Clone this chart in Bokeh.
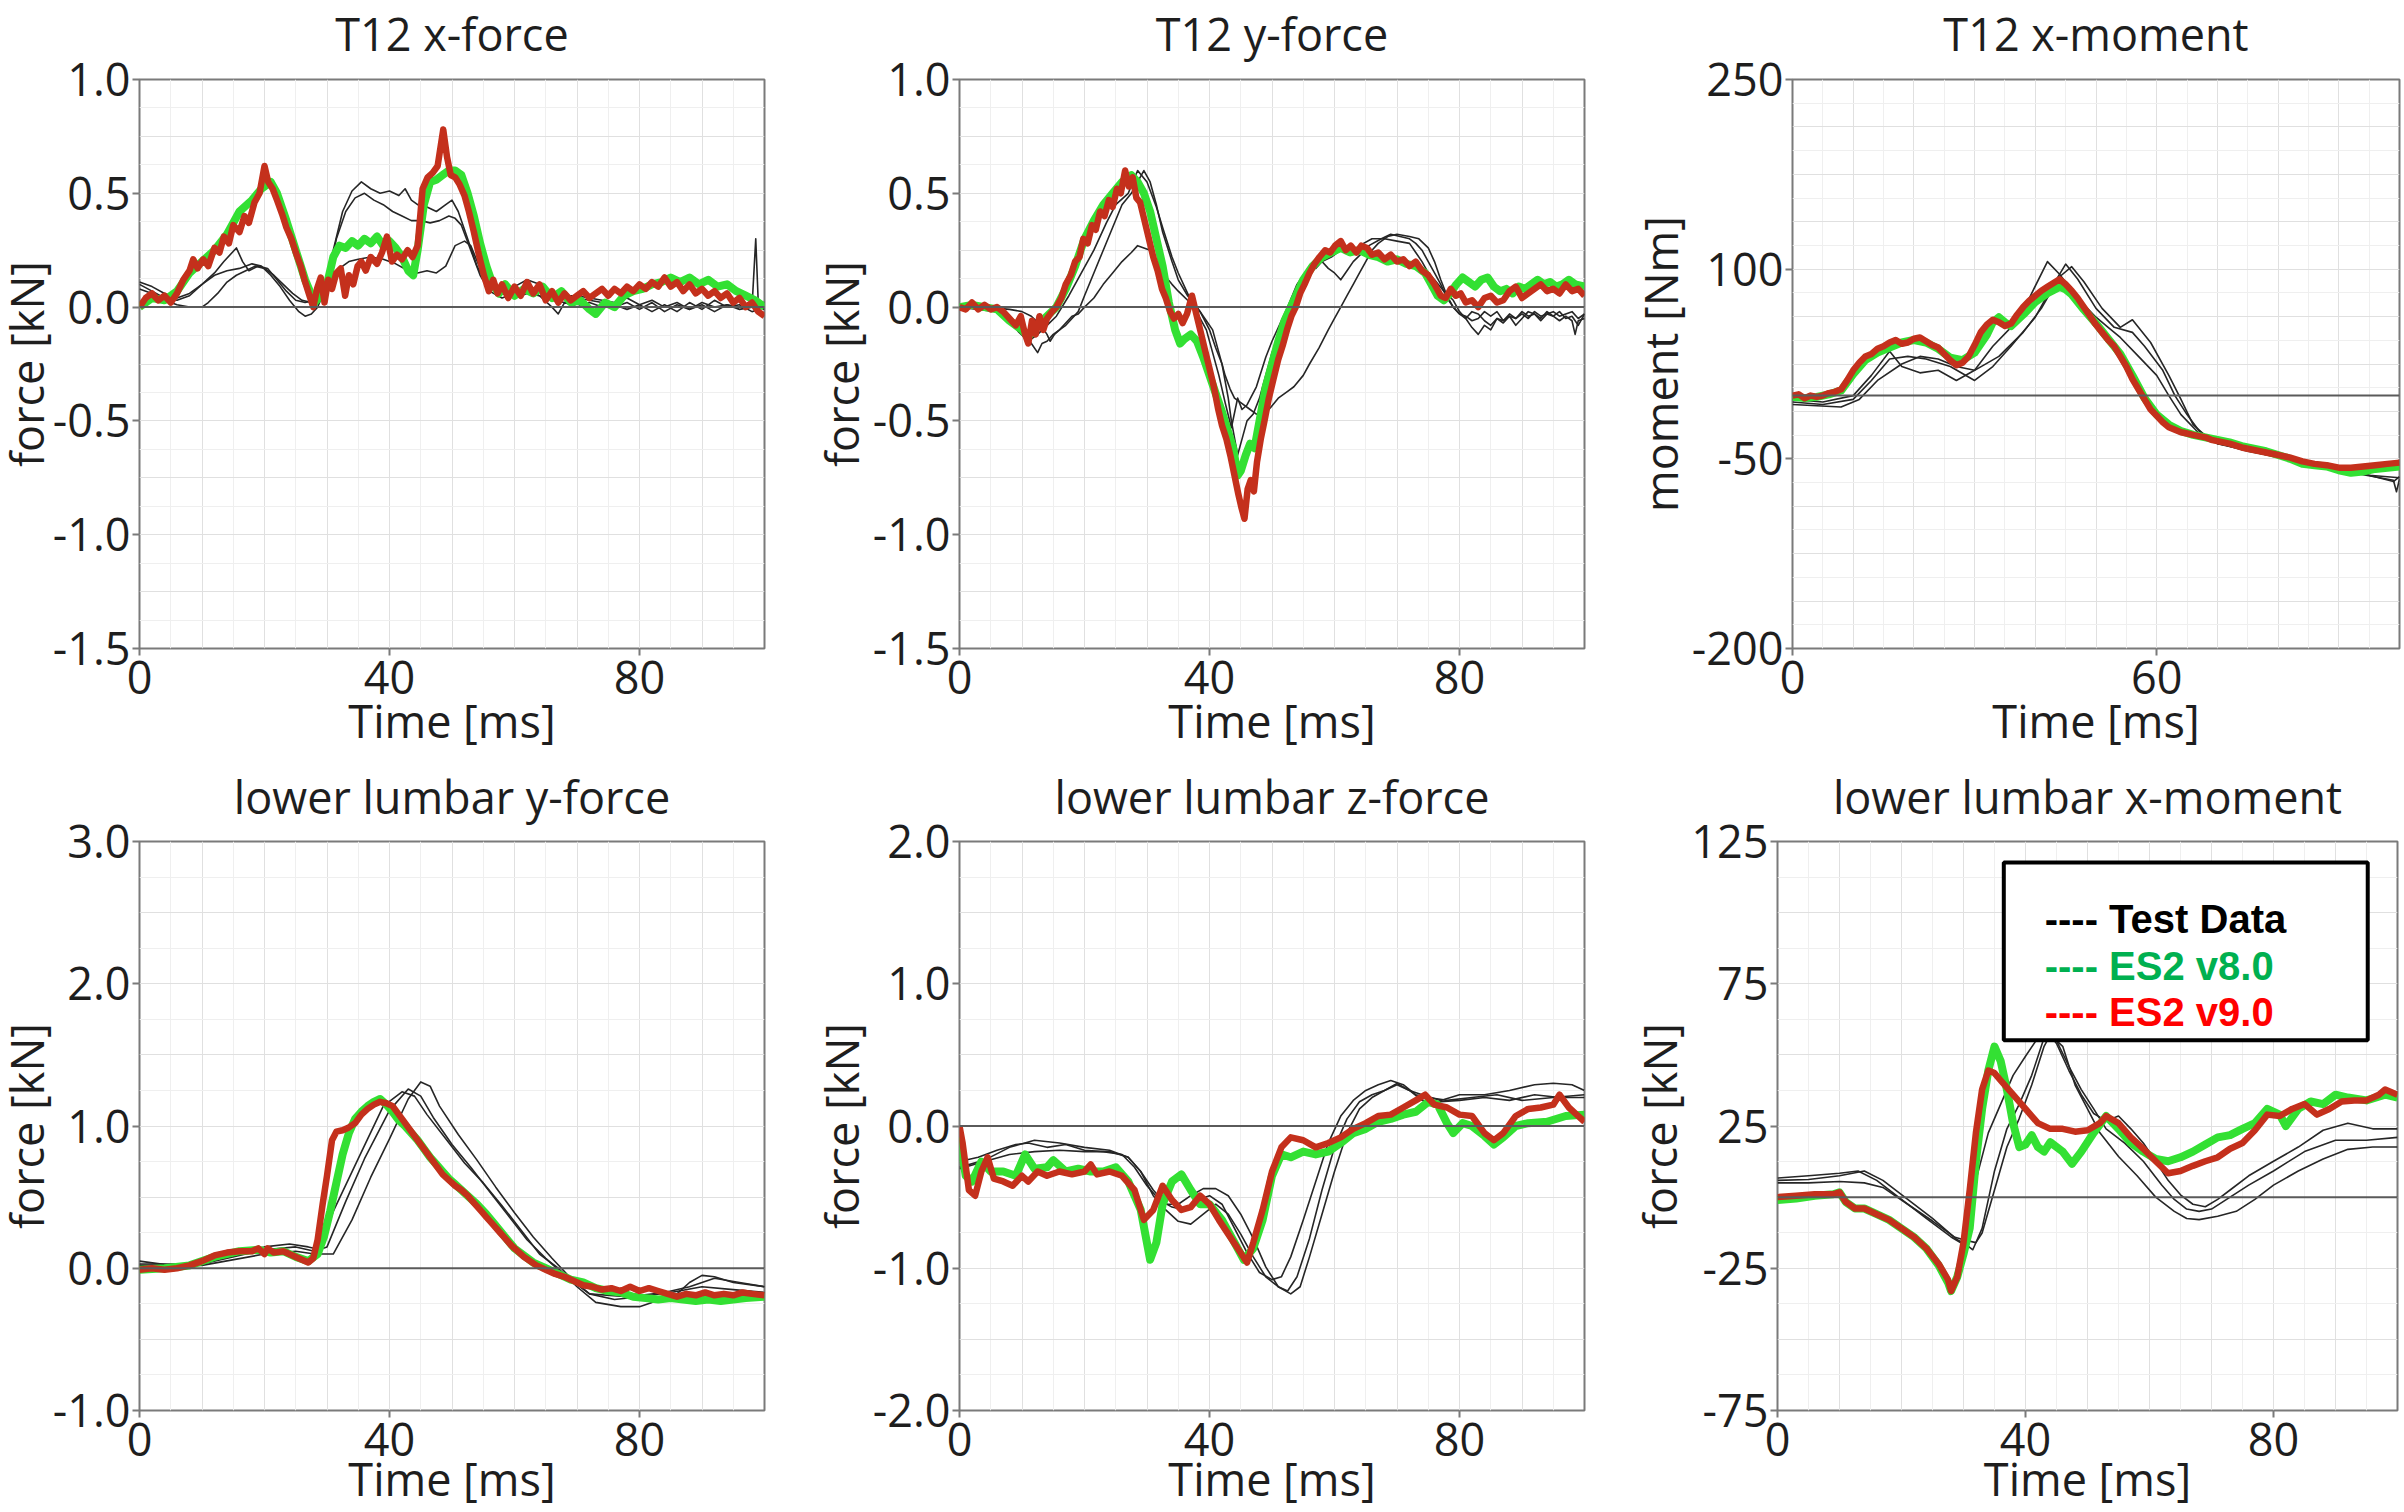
from bokeh.plotting import figure
from bokeh.layouts import column, row
from bokeh.models import FixedTicker, Span, BoxAnnotation, Label
from bokeh.embed import file_html
from bokeh.resources import INLINE

# ---------------- common axis data ----------------
TIME_TICKS = [0, 40, 80]
TIME_TICKS_MOMENT = [0, 60]

# ---------------- Panel 1: T12 x-force ----------------
T12X_YTICKS = [1.0, 0.5, 0.0, -0.5, -1.0, -1.5]
T12X_YLABELS = ["1.0", "0.5", "0.0", "-0.5", "-1.0", "-1.5"]
t12x_test1_t = [0, 2, 4, 6, 8, 10, 12, 13.5, 15.5, 16.5, 17.5, 19, 20.5, 22, 23.5, 25, 26.5, 28, 29.5, 31, 32.5, 34, 35.5, 37, 38.5, 40, 41.5, 42.5, 43.5, 44.5, 46, 47.5, 49, 50, 51, 52.5, 54, 56, 58, 60, 62, 64, 66, 68, 70, 72, 74, 76, 78, 80, 82, 84, 86, 88, 90, 92, 94, 96, 98, 98.6, 99, 100]
t12x_test1 = [0.11, 0.09, 0.06, 0.04, 0.06, 0.1, 0.15, 0.2, 0.26, 0.2, 0.16, 0.18, 0.17, 0.12, 0.07, 0.03, 0.02, 0.03, 0.08, 0.25, 0.42, 0.51, 0.55, 0.52, 0.5, 0.51, 0.49, 0.52, 0.47, 0.45, 0.44, 0.42, 0.45, 0.47, 0.42, 0.3, 0.18, 0.08, 0.06, 0.09, 0.12, 0.1, 0.07, 0.05, 0.05, 0.04, 0.03, 0.02, 0.04, 0.01, 0.03, 0.0, 0.02, -0.01, 0.02, 0.0, 0.01, -0.01, 0.0, 0.3, 0.02, 0.02]
t12x_test2_t = [0, 2, 4, 6, 8, 10, 12, 14, 16, 18, 19.5, 21, 22.5, 24, 25.5, 26.5, 27.5, 28.5, 30, 31.5, 33, 34.5, 36, 37.5, 39, 40.5, 42, 43.5, 45, 46.5, 48, 49.5, 50.5, 51.5, 53, 54.5, 56, 58, 60, 62, 64, 66, 67, 68, 70, 72, 74, 76, 78, 80, 82, 84, 86, 88, 90, 92, 94, 96, 98, 100]
t12x_test2 = [0.1, 0.07, 0.04, 0.03, 0.05, 0.1, 0.14, 0.16, 0.17, 0.19, 0.18, 0.14, 0.09, 0.03, -0.02, -0.04, -0.03, 0.0, 0.1, 0.3, 0.42, 0.48, 0.5, 0.47, 0.45, 0.42, 0.4, 0.38, 0.38, 0.37, 0.38, 0.4, 0.39, 0.36, 0.25, 0.14, 0.07, 0.04, 0.06, 0.08, 0.05, 0.0, -0.03, 0.02, 0.0, 0.02, 0.0, 0.01, -0.01, 0.01, -0.02, 0.01, -0.02, 0.02, -0.01, 0.03, 0.0, 0.01, -0.02, 0.0]
t12x_test3_t = [0, 2, 4, 6, 8, 10, 11, 12.5, 14, 15.5, 17, 18.5, 20, 21.5, 23, 24.5, 26, 27.5, 29, 30.5, 32, 33.5, 35, 37, 39, 41, 43, 44.5, 46, 47.5, 49, 50.5, 52, 53, 54.5, 56, 58, 60, 62, 64, 66, 68, 70, 72, 74, 76, 78, 80, 82, 84, 86, 88, 90, 92, 94, 96, 98, 100]
t12x_test3 = [0.08, 0.06, 0.03, 0.01, 0.0, 0.0, 0.02, 0.06, 0.11, 0.14, 0.16, 0.18, 0.17, 0.14, 0.1, 0.06, 0.03, 0.02, 0.03, 0.1, 0.17, 0.2, 0.21, 0.22, 0.21, 0.19, 0.16, 0.15, 0.16, 0.15, 0.18, 0.27, 0.29, 0.27, 0.17, 0.09, 0.06, 0.04, 0.06, 0.05, 0.03, 0.02, 0.04, 0.03, 0.02, 0.0, 0.02, -0.01, 0.02, -0.02, 0.01, -0.01, 0.01, -0.02, 0.01, 0.0, 0.01, -0.01]
t12x_v8_t = [0, 2, 4, 6, 8, 10, 12, 14, 16, 18, 19.5, 21, 22, 23.5, 25, 26.5, 28, 29, 30, 31, 32, 33, 34, 35, 36, 37, 38, 39, 40, 41, 42, 43, 43.8, 44.5, 45.5, 46.5, 47.5, 48.5, 49.5, 50.5, 51.5, 52.5, 53.5, 54.5, 55.5, 56.5, 57.5, 58.5, 60, 61.5, 63, 64.5, 66, 67.5, 69, 70.5, 72, 73, 74.5, 76, 77.5, 79, 80.5, 82, 83.5, 85, 86.5, 88, 89.5, 91, 92.5, 94, 95.5, 97, 98.5, 100]
t12x_v8 = [0.0, 0.04, 0.03, 0.07, 0.15, 0.2, 0.25, 0.32, 0.42, 0.47, 0.52, 0.55, 0.5, 0.38, 0.25, 0.12, 0.02, 0.05, 0.1, 0.22, 0.27, 0.26, 0.29, 0.27, 0.3, 0.28, 0.31, 0.27, 0.29, 0.26, 0.22, 0.16, 0.14, 0.25, 0.45, 0.55, 0.56, 0.58, 0.6, 0.6, 0.58, 0.5, 0.4, 0.28, 0.18, 0.1, 0.06, 0.1, 0.05, 0.08, 0.06, 0.09, 0.04, 0.07, 0.02, 0.03, -0.01, -0.03, 0.02, 0.0, 0.05, 0.07, 0.08, 0.1, 0.11, 0.13, 0.11, 0.13, 0.1, 0.12, 0.09, 0.1, 0.07, 0.05, 0.03, 0.0]
t12x_v9_t = [0, 1, 2, 3, 4, 5, 6, 7, 8, 8.6, 9.3, 10.2, 11, 12, 12.8, 13.5, 14.3, 15, 16, 16.8, 17.5, 18.4, 19.2, 20, 20.6, 21.3, 22, 22.8, 23.5, 24.3, 25, 25.8, 26.5, 27.2, 27.8, 28.4, 29, 29.6, 30.2, 30.8, 31.5, 32.2, 32.9, 33.5, 34.2, 34.9, 35.5, 36.2, 37, 38, 38.8, 39.6, 40.4, 41.2, 42, 42.9, 43.7, 44.5, 45.3, 46.1, 46.9, 47.7, 48.6, 49.2, 49.8, 50.5, 51.2, 52, 52.7, 53.5, 54.3, 55.1, 55.9, 56.6, 57.3, 58, 59, 60, 61, 62, 63, 64, 65, 66, 67, 68, 69, 70, 71, 72, 73, 74, 75, 76, 77, 78, 79, 80, 81, 82, 83, 84, 85, 86, 87, 88, 89, 90, 91, 92, 93, 94, 95, 96, 97, 98, 99, 100]
t12x_v9 = [0.0, 0.04, 0.06, 0.03, 0.05, 0.02, 0.06, 0.12, 0.16, 0.21, 0.17, 0.21, 0.18, 0.26, 0.24, 0.31, 0.28, 0.36, 0.33, 0.4, 0.37, 0.46, 0.5, 0.62, 0.55, 0.52, 0.47, 0.41, 0.35, 0.3, 0.24, 0.18, 0.11, 0.05, 0.0, 0.08, 0.13, 0.02, 0.12, 0.08, 0.15, 0.17, 0.05, 0.14, 0.1, 0.18, 0.2, 0.16, 0.22, 0.19, 0.24, 0.31, 0.2, 0.23, 0.21, 0.25, 0.22, 0.27, 0.52, 0.57, 0.59, 0.62, 0.78, 0.66, 0.58, 0.57, 0.54, 0.49, 0.42, 0.33, 0.23, 0.14, 0.07, 0.12, 0.06, 0.1, 0.04, 0.09, 0.05, 0.11, 0.06, 0.1, 0.03, 0.07, 0.02, 0.06, 0.03, 0.05, 0.07, 0.04, 0.06, 0.08, 0.05, 0.08, 0.06, 0.09, 0.07, 0.1, 0.08, 0.11, 0.09, 0.13, 0.09, 0.11, 0.07, 0.1, 0.06, 0.08, 0.05, 0.07, 0.04, 0.06, 0.02, 0.04, 0.0, 0.02, -0.02, -0.04]

# ---------------- Panel 2: T12 y-force ----------------
T12Y_YTICKS = [1.0, 0.5, 0.0, -0.5, -1.0, -1.5]
T12Y_YLABELS = ["1.0", "0.5", "0.0", "-0.5", "-1.0", "-1.5"]
t12y_test1_t = [0, 3, 6, 8, 9.5, 11, 12.5, 14, 15.5, 17.5, 19.5, 21.5, 23.5, 25, 27, 28.5, 30, 31.5, 32.5, 34, 35, 36.5, 37.5, 38.5, 39.5, 40.5, 41.5, 42.5, 43.5, 44.5, 45.2, 46, 47.5, 49, 50, 51.5, 52.5, 54, 56, 57, 58, 59.5, 61, 62.5, 64, 66, 68, 70, 72, 73, 74, 75, 76, 77.5, 79, 80, 81, 82, 83, 84, 85, 86, 87, 88, 89, 90, 91, 92, 93, 94, 95, 96, 97, 98, 99, 100]
t12y_test1 = [0.0, -0.01, -0.02, -0.06, -0.11, -0.15, -0.12, -0.08, -0.04, 0.05, 0.15, 0.25, 0.37, 0.45, 0.5, 0.6, 0.55, 0.44, 0.35, 0.22, 0.15, 0.06, 0.0, -0.05, -0.1, -0.2, -0.3, -0.42, -0.53, -0.4, -0.45, -0.43, -0.35, -0.22, -0.15, -0.06, 0.0, 0.1, 0.18, 0.17, 0.2, 0.22, 0.25, 0.24, 0.27, 0.3, 0.3, 0.29, 0.28, 0.24, 0.2, 0.15, 0.12, 0.07, 0.03, -0.02, -0.05, -0.09, -0.12, -0.08, -0.1, -0.05, -0.07, -0.04, -0.08, -0.05, -0.02, -0.03, -0.06, -0.03, -0.04, -0.02, -0.05, -0.04, -0.08, -0.03]
t12y_test2_t = [0, 3, 6, 8, 10, 11.5, 12.5, 13.2, 14, 15, 16, 17, 18, 19, 20, 21.5, 23, 24.5, 26, 27.5, 28.5, 29.5, 30.5, 31.5, 32.5, 34, 35, 36.5, 38.5, 40, 41, 42, 43, 43.5, 44.5, 45.2, 46, 47, 48, 49, 50, 51.5, 52.5, 54, 55.5, 57, 58, 59, 60, 61, 62, 63, 64.5, 65.5, 67.5, 69, 70.5, 72, 73, 74, 75, 76, 77, 78, 79, 80, 81, 82, 83, 84, 85, 86, 87, 88, 89, 90, 91, 92, 93, 94, 95, 96, 97, 98, 98.5, 99, 100]
t12y_test2 = [0.0, 0.0, -0.01, -0.05, -0.1, -0.16, -0.2, -0.16, -0.15, -0.12, -0.1, -0.08, -0.05, -0.02, 0.05, 0.15, 0.25, 0.35, 0.45, 0.5, 0.55, 0.6, 0.55, 0.45, 0.33, 0.2, 0.12, 0.05, -0.02, -0.1, -0.18, -0.25, -0.4, -0.5, -0.65, -0.58, -0.5, -0.47, -0.4, -0.3, -0.2, -0.1, 0.0, 0.08, 0.15, 0.19, 0.2, 0.17, 0.15, 0.12, 0.16, 0.2, 0.24, 0.27, 0.3, 0.32, 0.31, 0.3, 0.28, 0.25, 0.2, 0.15, 0.1, 0.04, 0.0, -0.03, -0.05, -0.02, -0.03, -0.06, -0.08, -0.05, -0.06, -0.03, -0.05, -0.02, -0.04, -0.03, -0.05, -0.02, -0.04, -0.06, -0.04, -0.06, -0.12, -0.06, -0.05]
t12y_test3_t = [0, 4, 8, 10, 11.5, 13, 14, 14.5, 15.2, 16, 17, 18, 19, 20, 21.5, 23, 24.5, 26, 27.5, 28.5, 29.5, 30.5, 31.5, 32.5, 34, 35, 36.5, 38, 39.5, 40.5, 41.5, 42.5, 43.3, 44, 45, 46.5, 47.5, 48.5, 49.5, 51, 52.5, 53.5, 55, 56, 57.5, 59, 60, 61, 62, 63, 64, 65, 66, 67, 68.5, 70, 72, 73.5, 75, 76, 77, 78, 79, 80, 81, 82, 83, 84, 85, 86, 87, 88, 89, 90, 91, 92, 93, 94, 95, 96, 97, 98, 99, 100]
t12y_test3 = [0.0, 0.0, -0.01, -0.02, -0.04, -0.08, -0.12, -0.15, -0.12, -0.1, -0.07, -0.04, -0.03, 0.0, 0.04, 0.1, 0.15, 0.2, 0.24, 0.27, 0.26, 0.25, 0.2, 0.15, 0.1, 0.07, 0.03, 0.0, -0.06, -0.1, -0.2, -0.3, -0.36, -0.4, -0.42, -0.45, -0.47, -0.48, -0.45, -0.4, -0.37, -0.35, -0.3, -0.25, -0.18, -0.1, -0.05, 0.0, 0.05, 0.1, 0.15, 0.2, 0.25, 0.28, 0.31, 0.32, 0.31, 0.3, 0.26, 0.2, 0.12, 0.05, 0.0, -0.03, -0.04, -0.06, -0.05, -0.02, -0.04, -0.02, -0.06, -0.04, -0.05, -0.03, -0.05, -0.02, -0.04, -0.03, -0.02, -0.04, -0.03, -0.02, -0.05, -0.03]
t12y_v8_t = [0, 2, 4, 6, 8, 10, 11, 12.5, 14, 15.5, 17, 18.5, 20, 21.5, 23, 24.5, 26, 27.5, 28.5, 29.5, 30.5, 31.5, 32.5, 33.5, 34.5, 35.3, 36, 37, 38, 39, 40, 41, 42, 43, 43.8, 44.5, 45, 45.8, 46.5, 47.2, 48, 49, 50, 51, 52, 53, 54, 55, 56.5, 58, 59.5, 61, 62.5, 64, 65.5, 67, 68.5, 70, 71.5, 73, 74.5, 75.5, 76.5, 77.5, 78.5, 79.5, 80.5, 81.5, 82.5, 83.5, 84.5, 85.5, 86.5, 87.5, 88.5, 89.5, 90.5, 91.5, 92.5, 93.5, 94.5, 95.5, 96.5, 97.5, 98.5, 100]
t12y_v8 = [0.0, 0.01, 0.0, -0.01, -0.06, -0.1, -0.13, -0.08, -0.04, 0.0, 0.08, 0.18, 0.3, 0.38, 0.45, 0.5, 0.55, 0.58, 0.55, 0.5, 0.42, 0.3, 0.18, 0.02, -0.1, -0.16, -0.14, -0.12, -0.15, -0.22, -0.3, -0.38, -0.46, -0.55, -0.62, -0.74, -0.72, -0.65, -0.6, -0.62, -0.5, -0.35, -0.25, -0.15, -0.06, 0.0, 0.06, 0.12, 0.18, 0.22, 0.24, 0.26, 0.24, 0.25, 0.23, 0.22, 0.2, 0.21, 0.19, 0.18, 0.15, 0.1, 0.05, 0.03, 0.06, 0.1, 0.13, 0.11, 0.09, 0.12, 0.13, 0.09, 0.07, 0.08, 0.06, 0.09, 0.08, 0.1, 0.12, 0.1, 0.11, 0.09, 0.1, 0.12, 0.1, 0.09]
t12y_v9_t = [0, 1, 2, 3, 4, 5, 6, 7, 8, 9, 9.8, 10.5, 11, 11.6, 12.2, 12.8, 13.4, 14, 14.8, 15.5, 16.3, 17, 17.8, 18.5, 19.2, 19.8, 20.5, 21.2, 21.8, 22.5, 23.2, 23.9, 24.5, 25.2, 25.8, 26.5, 27.1, 27.7, 28.3, 28.9, 29.6, 30.3, 31, 31.7, 32.4, 33, 33.7, 34.3, 35, 35.7, 36.4, 37.2, 37.8, 38.5, 39.2, 40, 40.7, 41.4, 42, 42.7, 43.4, 44, 44.6, 45.1, 45.6, 46.1, 46.6, 47.1, 47.6, 48.2, 48.8, 49.5, 50.2, 51, 51.7, 52.4, 53.1, 53.8, 54.5, 55.2, 56, 56.8, 57.6, 58.5, 59.3, 60.1, 61, 61.8, 62.6, 63.5, 64.3, 65.2, 66, 67, 68, 69, 70, 71, 72, 73, 74, 75, 76, 77, 77.8, 78.6, 79.4, 80.2, 81, 82, 83, 84, 85, 86, 87, 88, 89, 90, 91, 92, 93, 94, 95, 96, 97, 98, 99, 100]
t12y_v9 = [0.0, -0.01, 0.02, -0.01, 0.01, -0.01, 0.0, -0.02, -0.05, -0.08, -0.04, -0.12, -0.16, -0.06, -0.12, -0.04, -0.1, -0.05, -0.02, 0.0, 0.04, 0.1, 0.14, 0.2, 0.22, 0.3, 0.28, 0.36, 0.34, 0.42, 0.4, 0.47, 0.44, 0.52, 0.5, 0.6, 0.53, 0.57, 0.48, 0.46, 0.38, 0.3, 0.22, 0.16, 0.08, 0.04, -0.02, -0.05, -0.03, -0.07, -0.03, 0.05, -0.02, -0.1, -0.18, -0.27, -0.35, -0.45, -0.52, -0.58, -0.66, -0.74, -0.82, -0.88, -0.93, -0.8, -0.76, -0.81, -0.68, -0.58, -0.5, -0.4, -0.32, -0.23, -0.17, -0.1, -0.04, 0.0, 0.06, 0.1, 0.15, 0.19, 0.22, 0.25, 0.24, 0.27, 0.29, 0.25, 0.27, 0.24, 0.27, 0.26, 0.23, 0.24, 0.21, 0.23, 0.2, 0.21, 0.18, 0.2, 0.16, 0.14, 0.1, 0.05, 0.04, 0.08, 0.05, 0.06, 0.02, 0.03, 0.0, 0.04, 0.05, 0.02, 0.03, 0.07, 0.09, 0.04, 0.06, 0.08, 0.1, 0.07, 0.08, 0.06, 0.1, 0.07, 0.08, 0.05]

# ---------------- Panel 3: T12 x-moment ----------------
T12M_YTICKS = [250, 100, -50, -200]
T12M_YLABELS = ["250", "100", "-50", "-200"]
t12m_test1_t = [0, 5, 10, 13, 16, 18, 21, 24, 27, 30, 33, 36, 39, 42, 44, 47, 50, 52, 54, 57, 60, 62, 64, 67, 70, 75, 80, 85, 90, 95, 99, 100]
t12m_test1 = [-3, -5, 0, 16, 35, 23, 18, 20, 12, 20, 39, 54, 77, 106, 96, 77, 62, 54, 46, 31, 16, 0, -15, -30, -38, -42, -47, -55, -59, -63, -68, -64]
t12m_test2_t = [0, 5, 10, 13, 16, 19, 22, 26, 30, 33, 36, 40, 43, 45, 47, 50, 53, 56, 58, 61, 63, 65, 67, 70, 80, 90, 99, 99.5, 100]
t12m_test2 = [-5, -7, -3, 12, 29, 31, 29, 23, 12, 23, 39, 62, 88, 104, 92, 69, 54, 50, 39, 20, 0, -15, -28, -38, -49, -59, -67, -76, -66]
t12m_test3_t = [0, 8, 11, 14, 18, 21, 24, 27, 30, 34, 38, 41, 44, 46, 48, 51, 54, 56, 59, 62, 64, 66, 69, 75, 85, 95, 100]
t12m_test3 = [-7, -9, -3, 12, 25, 31, 29, 23, 20, 31, 50, 69, 94, 102, 90, 69, 54, 60, 42, 16, -3, -23, -36, -44, -53, -63, -65]
t12m_v8_t = [0, 2, 4, 6, 8, 10, 12, 14, 16, 18, 20, 22, 24, 26, 28, 30, 32, 33, 34, 35, 36, 38, 40, 42, 44, 45, 46, 48, 50, 52, 54, 56, 58, 60, 62, 64, 66, 68, 70, 72, 74, 76, 78, 80, 82, 84, 86, 88, 90, 92, 94, 96, 98, 100]
t12m_v8 = [-1, -2, -1, 1, 4, 17, 28, 34, 38, 42, 44, 42, 37, 30, 28, 34, 48, 58, 62, 58, 55, 64, 74, 81, 86, 84, 80, 68, 57, 45, 33, 16, -2, -15, -23, -28, -31, -33, -35, -37, -40, -42, -44, -47, -50, -54, -55, -56, -59, -61, -60, -58, -57, -56]
t12m_v9_t = [0, 1, 2, 3, 4, 5, 6, 7, 8, 9, 10, 11, 12, 13, 14, 15, 16, 17, 18, 19, 20, 21, 22, 23, 24, 25, 26, 27, 28, 29, 30, 31, 32, 33, 34, 35, 36, 37, 38, 39, 40, 41, 42, 43, 44, 45, 46, 47, 48, 49, 50, 51, 52, 53, 54, 55, 56, 57, 58, 59, 60, 61, 62, 63, 64, 65, 66, 67, 68, 69, 70, 72, 74, 76, 78, 80, 82, 84, 86, 88, 90, 92, 94, 96, 98, 100]
t12m_v9 = [0, 1, -2, 0, -1, 0, 2, 3, 5, 12, 20, 26, 31, 33, 37, 39, 42, 44, 41, 42, 45, 46, 43, 40, 38, 33, 28, 24, 26, 31, 40, 50, 56, 60, 58, 55, 57, 64, 70, 75, 79, 83, 86, 89, 92, 88, 83, 77, 70, 63, 56, 50, 44, 39, 31, 23, 13, 5, -3, -11, -16, -21, -25, -27, -29, -30, -31, -32, -33, -35, -36, -38, -41, -43, -45, -47, -49, -52, -54, -55, -57, -57, -56, -55, -54, -53]

# ---------------- Panel 4: lower lumbar y-force ----------------
LLY_YTICKS = [3.0, 2.0, 1.0, 0.0, -1.0]
LLY_YLABELS = ["3.0", "2.0", "1.0", "0.0", "-1.0"]
lly_test1_t = [0, 5, 10, 15, 20, 24, 27, 29, 31, 35, 39, 42, 44, 46, 49, 52, 55, 58, 61, 64, 67, 70, 73, 77, 80, 82, 84, 86, 88, 90, 92, 95, 100]
lly_test1 = [0.05, 0.02, 0.03, 0.1, 0.15, 0.17, 0.15, 0.13, 0.4, 0.77, 1.14, 1.24, 1.21, 1.08, 0.91, 0.74, 0.6, 0.44, 0.27, 0.1, 0.0, -0.13, -0.24, -0.27, -0.27, -0.24, -0.2, -0.18, -0.1, -0.05, -0.06, -0.1, -0.13]
lly_test2_t = [0, 10, 20, 25, 28, 30, 33, 36, 40, 43, 45, 47, 50, 53, 56, 59, 62, 65, 68, 72, 76, 80, 85, 90, 95, 100]
lly_test2 = [0.03, 0.03, 0.13, 0.15, 0.12, 0.15, 0.47, 0.77, 1.11, 1.26, 1.21, 1.06, 0.87, 0.71, 0.54, 0.37, 0.2, 0.07, -0.05, -0.18, -0.22, -0.2, -0.17, -0.13, -0.15, -0.17]
lly_test3_t = [0, 10, 20, 25, 28, 31, 34, 37, 40, 43, 45, 46.5, 48, 51, 54, 57, 60, 63, 66, 69, 72, 78, 84, 88, 92, 96, 100]
lly_test3 = [0.02, 0.02, 0.1, 0.12, 0.1, 0.1, 0.34, 0.64, 0.91, 1.19, 1.31, 1.28, 1.14, 0.94, 0.76, 0.57, 0.39, 0.22, 0.07, -0.07, -0.18, -0.2, -0.17, -0.13, -0.07, -0.1, -0.13]
lly_v8_t = [0, 4, 8, 12, 16, 19, 21, 23, 25, 27, 28.5, 29.5, 30.5, 31.5, 32.5, 33.5, 34.5, 35.5, 36.5, 37.5, 38.5, 39.5, 40.5, 41.5, 42.5, 43.5, 44.5, 45.5, 46.5, 47.5, 48.5, 49.5, 50.5, 51.5, 52.5, 54, 55.5, 57, 58.5, 60, 61.5, 63, 65, 67, 69, 71, 73, 75, 77, 79, 81, 83, 85, 87, 89, 91, 93, 95, 97, 100]
lly_v8 = [-0.01, 0.0, 0.02, 0.08, 0.12, 0.13, 0.11, 0.12, 0.08, 0.05, 0.1, 0.22, 0.4, 0.6, 0.8, 0.95, 1.05, 1.1, 1.14, 1.17, 1.19, 1.15, 1.1, 1.04, 1.0, 0.95, 0.9, 0.84, 0.78, 0.73, 0.68, 0.63, 0.59, 0.55, 0.51, 0.45, 0.38, 0.3, 0.22, 0.14, 0.09, 0.04, 0.0, -0.04, -0.08, -0.1, -0.14, -0.16, -0.17, -0.2, -0.21, -0.22, -0.21, -0.22, -0.23, -0.22, -0.23, -0.22, -0.21, -0.2]
lly_v9_t = [0, 2, 4, 6, 8, 10, 12, 14, 16, 18, 19, 20, 20.5, 21.5, 23, 24.5, 26, 27, 27.8, 28.5, 29.3, 30, 30.8, 31.5, 32.5, 33.5, 34.5, 35.5, 36.5, 37.5, 38.5, 39.5, 40.5, 41.5, 42.5, 43.5, 44.5, 45.5, 46.5, 47.5, 48.5, 49.5, 50.5, 51.5, 52.5, 53.5, 54.5, 55.5, 56.5, 57.5, 58.5, 59.5, 60.5, 61.5, 62.5, 63.5, 65, 66.5, 68, 69.5, 71, 72.5, 74, 75.5, 77, 78.5, 80, 81.5, 83, 84.5, 86, 87.5, 89, 90.5, 92, 93.5, 95, 96.5, 98, 100]
lly_v9 = [-0.01, 0.0, -0.01, 0.0, 0.02, 0.05, 0.09, 0.11, 0.12, 0.12, 0.14, 0.1, 0.14, 0.11, 0.12, 0.09, 0.06, 0.04, 0.07, 0.2, 0.45, 0.65, 0.9, 0.96, 0.97, 0.99, 1.02, 1.08, 1.12, 1.15, 1.17, 1.16, 1.14, 1.08, 1.02, 0.96, 0.9, 0.84, 0.78, 0.72, 0.66, 0.62, 0.58, 0.55, 0.51, 0.46, 0.41, 0.36, 0.31, 0.26, 0.21, 0.16, 0.12, 0.08, 0.05, 0.02, -0.01, -0.04, -0.06, -0.09, -0.12, -0.13, -0.15, -0.14, -0.16, -0.13, -0.16, -0.14, -0.16, -0.18, -0.2, -0.18, -0.19, -0.17, -0.19, -0.18, -0.19, -0.17, -0.18, -0.19]

# ---------------- Panel 5: lower lumbar z-force ----------------
LLZ_YTICKS = [2.0, 1.0, 0.0, -1.0, -2.0]
LLZ_YLABELS = ["2.0", "1.0", "0.0", "-1.0", "-2.0"]
llz_test1_t = [0, 3, 6, 9, 11, 14, 17, 20, 23, 26, 28, 30, 32, 34, 36, 38, 40, 42, 44, 46, 48, 50, 51.5, 53, 55, 57, 59, 61, 63, 65, 67, 69, 71, 73, 75, 78, 82, 86, 90, 95, 100]
llz_test1 = [-0.25, -0.22, -0.17, -0.13, -0.12, -0.15, -0.13, -0.17, -0.18, -0.2, -0.29, -0.42, -0.52, -0.57, -0.59, -0.52, -0.49, -0.55, -0.72, -0.89, -1.03, -1.08, -1.06, -0.92, -0.66, -0.39, -0.12, 0.07, 0.18, 0.25, 0.29, 0.32, 0.29, 0.22, 0.2, 0.18, 0.2, 0.22, 0.18, 0.2, 0.22]
llz_test2_t = [0, 4, 8, 12, 16, 20, 24, 27, 29, 31, 33, 35, 37, 39, 41, 43, 45, 47, 49, 51, 52.5, 54, 56, 58, 60, 62, 64, 66, 68, 70, 72, 74, 77, 80, 84, 88, 92, 95, 98, 100]
llz_test2 = [-0.29, -0.24, -0.15, -0.1, -0.12, -0.15, -0.17, -0.22, -0.32, -0.45, -0.55, -0.55, -0.49, -0.44, -0.44, -0.49, -0.62, -0.79, -0.99, -1.13, -1.16, -1.06, -0.79, -0.45, -0.15, 0.05, 0.17, 0.22, 0.25, 0.3, 0.25, 0.22, 0.18, 0.22, 0.22, 0.25, 0.29, 0.3, 0.29, 0.25]
llz_test3_t = [0, 4, 8, 12, 16, 20, 24, 27, 29, 31, 33, 35, 37, 39, 41, 43, 45, 47, 49, 51, 53, 54.5, 56, 58, 60, 62, 64, 66, 68, 70, 72, 74, 77, 80, 84, 88, 92, 96, 100]
llz_test3 = [-0.3, -0.25, -0.2, -0.18, -0.17, -0.18, -0.18, -0.22, -0.32, -0.49, -0.59, -0.67, -0.69, -0.62, -0.55, -0.62, -0.76, -0.92, -1.06, -1.13, -1.18, -1.13, -0.92, -0.62, -0.32, -0.05, 0.12, 0.2, 0.25, 0.29, 0.25, 0.18, 0.17, 0.18, 0.2, 0.18, 0.22, 0.2, 0.2]
llz_v8_t = [0, 1, 2, 3.5, 5, 7, 9, 10.5, 12, 14, 15, 17, 19, 21, 23, 25, 27, 29, 30.5, 31.5, 32.5, 34, 35.5, 37, 38.5, 40, 42, 44, 45.5, 47, 48.5, 50, 51.5, 53, 55, 57, 59, 61, 63, 65, 67, 69, 71, 73, 75, 76.5, 78, 79, 80.5, 82, 84, 85.5, 87, 89, 91, 94, 97, 100]
llz_v8 = [-0.08, -0.35, -0.39, -0.25, -0.32, -0.32, -0.35, -0.2, -0.3, -0.29, -0.24, -0.32, -0.3, -0.32, -0.32, -0.29, -0.39, -0.59, -0.94, -0.82, -0.55, -0.39, -0.34, -0.45, -0.55, -0.55, -0.66, -0.82, -0.94, -0.86, -0.66, -0.35, -0.2, -0.22, -0.18, -0.2, -0.18, -0.12, -0.05, -0.02, 0.03, 0.05, 0.08, 0.1, 0.17, 0.15, 0.02, -0.05, 0.02, 0.0, -0.07, -0.13, -0.08, 0.0, 0.02, 0.03, 0.07, 0.08]
llz_v9_t = [0, 0.5, 1.5, 2.5, 3.5, 4.5, 5.5, 7, 8.5, 10, 11, 12.5, 14, 16, 18, 20, 21, 22, 24, 26, 28, 29.5, 31, 32.5, 34, 35.5, 37, 38.5, 40, 41.5, 43, 44.5, 46, 47, 48.5, 50, 51.5, 53, 55, 57, 59, 61, 63, 65, 67, 69, 71, 73, 74.5, 76, 78, 80, 82, 84, 85.5, 87, 89, 91, 93, 95, 96, 97.5, 99, 100]
llz_v9 = [0.0, -0.12, -0.45, -0.49, -0.32, -0.22, -0.37, -0.39, -0.42, -0.35, -0.39, -0.32, -0.35, -0.32, -0.34, -0.32, -0.27, -0.34, -0.32, -0.35, -0.45, -0.66, -0.59, -0.42, -0.52, -0.59, -0.57, -0.49, -0.55, -0.66, -0.76, -0.86, -0.96, -0.82, -0.59, -0.32, -0.15, -0.08, -0.1, -0.15, -0.12, -0.08, -0.02, 0.02, 0.07, 0.08, 0.13, 0.18, 0.22, 0.15, 0.13, 0.08, 0.07, -0.05, -0.1, -0.05, 0.07, 0.12, 0.13, 0.15, 0.22, 0.13, 0.07, 0.03]

# ---------------- Panel 6: lower lumbar x-moment ----------------
LLM_YTICKS = [125, 75, 25, -25, -75]
LLM_YLABELS = ["125", "75", "25", "-25", "-75"]
llm_test1_t = [0, 5, 10, 13, 16, 20, 24, 28, 29.5, 30.5, 32, 34, 36, 38, 40, 42, 43.5, 45, 47, 49, 51, 53, 55, 57, 59, 61, 63, 65, 67, 69, 71, 73, 76, 80, 84, 88, 92, 96, 100]
llm_test1 = [6.7, 7.5, 8.4, 9.2, 5.9, -0.8, -7.5, -14, -16, -12.6, 5.9, 22.6, 32.7, 42.8, 49.5, 56, 58, 54, 44.5, 36, 29.4, 26.8, 28.5, 24, 19, 12.6, 5.9, 0.8, -2.5, -3.4, -0.8, 2.5, 7.5, 12.6, 17.6, 23.5, 26, 24, 24]
llm_test2_t = [0, 5, 10, 14, 17, 21, 25, 29, 30.5, 31.5, 33, 35, 37, 39, 41, 43, 45, 47, 49, 51, 53, 56, 59, 62, 64, 66, 68, 70, 73, 76, 80, 85, 90, 95, 100]
llm_test2 = [5.9, 6.2, 7.5, 9.2, 5.9, -0.8, -7.5, -15, -16.8, -18.5, -11, 9.2, 24, 32.7, 42.8, 56, 55, 46, 37.8, 31, 24, 19, 12.6, 4.2, -0.8, -4.2, -5, -4.2, 0, 4.2, 9.2, 16, 20, 20, 21]
llm_test3_t = [0, 5, 10, 14, 17, 21, 25, 28.5, 30, 32, 33, 35, 37, 39, 41, 43, 44, 46, 48, 50, 52, 55, 58, 61, 64, 66, 68, 71, 74, 77, 80, 84, 88, 92, 96, 100]
llm_test3 = [5, 5, 5.5, 5, 3.4, -2.5, -8.4, -14, -15, -16, -12.6, 2.5, 17.6, 27.7, 39.4, 53, 57, 53, 39.4, 31, 22.6, 14.3, 7.5, 0, -5, -7.5, -7.9, -6.7, -5, -0.8, 4.2, 9.2, 13.4, 16.8, 17.6, 17.6]
llm_v8_t = [0, 3, 6, 9, 10, 11, 12.5, 14, 16, 18, 20, 22, 24, 26, 27.5, 28, 29, 30, 31, 32, 33, 34, 35, 36, 37, 38, 39, 40, 41, 42, 43, 44, 46, 47.5, 49, 51, 53, 55, 57, 59, 61, 63, 65, 67, 69, 71, 73, 75, 77, 79, 81, 82, 84, 86, 88, 90, 92, 95, 98, 100]
llm_v8 = [-1, -0.5, 0.5, 1, 1.7, -1.7, -4, -4, -6, -8, -11, -14, -18, -24, -30, -33, -28, -20, -11, 12.6, 31, 44.5, 52.9, 47.8, 37.8, 26, 17.6, 18.5, 21.8, 17.6, 16, 19.3, 16, 11.7, 16, 22.6, 28.5, 24, 19, 16, 13.4, 12.6, 14, 16, 18.5, 21, 21.8, 24, 26, 31, 29, 25, 31, 33.6, 32.7, 36, 35, 34, 36, 35]
llm_v9_t = [0, 3, 6, 9, 10, 11, 12.5, 14, 16, 18, 20, 22, 24, 26, 27.5, 28, 29, 30, 31, 32, 33, 34, 35, 36, 38, 40, 42, 44, 46, 48, 50, 52, 53, 55, 57, 59, 61, 63, 65, 67, 69, 71, 73, 75, 77, 79, 81, 83, 85, 87, 89, 91, 93, 95, 97, 98, 100]
llm_v9 = [0, 0.5, 1, 1, 1.7, -1.7, -4, -4, -6, -8, -11, -14, -18, -23.5, -29, -33, -28, -16, 2.5, 22.6, 37.8, 44.5, 43.6, 41, 36, 31, 26, 24, 24, 23, 23.5, 26, 28.5, 26, 21, 17, 12.6, 8.4, 9.2, 11, 12.6, 14, 17, 19, 23.5, 29, 28.5, 31, 32.7, 29, 31, 33.6, 34, 34, 36, 37.8, 36]

# ---------------- legend ----------------
LEGEND_TEXTS = ["---- Test Data", "---- ES2 v8.0", "---- ES2 v9.0"]
LEGEND_COLORS = ["#000000", "#00b050", "#ff0000"]

FONT = "Open Sans"
FS = "45px"
TEST_COLOR = "#262626"
V8_COLOR = "#33e033"
V9_COLOR = "#c4301c"


def make_panel(title, ylabel, yr, yticks, ylabels, ystep, xticks, tests, v8, v9,
               frame_w, borders, title_standoff=31, ylab_standoff=-2, xlab_standoff=-7):
    L, R, T, B = borders
    p = figure(frame_width=frame_w, frame_height=569, x_range=(0, 100), y_range=yr,
               output_backend="svg", toolbar_location=None, title=title,
               min_border_left=L, min_border_right=R, min_border_top=T, min_border_bottom=B)
    p.background_fill_color = "white"
    p.border_fill_color = "white"
    p.outline_line_color = "#7a7a7a"
    p.outline_line_width = 2

    p.title.text_font = FONT
    p.title.text_font_size = FS
    p.title.text_font_style = "normal"
    p.title.text_color = "#1e1e1e"
    p.title.align = "center"
    p.title.standoff = title_standoff

    # grids
    p.xgrid.ticker = FixedTicker(ticks=list(range(0, 101, 10)), minor_ticks=list(range(5, 100, 10)))
    p.xgrid.grid_line_color = "#e0e0e0"
    p.xgrid.minor_grid_line_color = "#efefef"
    lo, hi = yr
    n = int(round((hi - lo) / ystep))
    gmaj = [lo + i * ystep for i in range(n + 1)]
    gmin = [lo + (i + 0.5) * ystep for i in range(n)]
    p.ygrid.ticker = FixedTicker(ticks=gmaj, minor_ticks=gmin)
    p.ygrid.grid_line_color = "#e0e0e0"
    p.ygrid.minor_grid_line_color = "#efefef"

    # axes
    p.xaxis.ticker = FixedTicker(ticks=xticks)
    p.xaxis.axis_label = "Time [ms]"
    p.yaxis.ticker = FixedTicker(ticks=yticks)
    p.yaxis.major_label_overrides = {t: s for t, s in zip(yticks, ylabels)}
    p.yaxis.axis_label = ylabel
    for ax in (p.xaxis[0], p.yaxis[0]):
        ax.axis_line_color = None
        ax.major_tick_line_color = "#7a7a7a"
        ax.major_tick_line_width = 2
        ax.major_tick_out = 7
        ax.major_tick_in = 0
        ax.minor_tick_line_color = None
        ax.major_label_text_font = FONT
        ax.major_label_text_font_size = FS
        ax.major_label_text_color = "#1e1e1e"
        ax.axis_label_text_font = FONT
        ax.axis_label_text_font_size = FS
        ax.axis_label_text_font_style = "normal"
        ax.axis_label_text_color = "#1e1e1e"
    p.xaxis.major_label_standoff = 5
    p.xaxis.axis_label_standoff = xlab_standoff
    p.yaxis.major_label_standoff = 2
    p.yaxis.axis_label_standoff = ylab_standoff

    p.add_layout(Span(location=0, dimension="width", line_color="#5a5a5a", line_width=2))

    for tt, vv in tests:
        p.line(tt, vv, line_color=TEST_COLOR, line_width=1.6, line_join="round")
    p.line(v8[0], v8[1], line_color=V8_COLOR, line_width=8, line_join="round")
    p.line(v9[0], v9[1], line_color=V9_COLOR, line_width=6.5, line_join="round")
    return p


p1 = make_panel("T12 x-force", "force [kN]", (-1.5, 1.0), T12X_YTICKS, T12X_YLABELS, 0.25, TIME_TICKS,
                [(t12x_test1_t, t12x_test1), (t12x_test2_t, t12x_test2), (t12x_test3_t, t12x_test3)],
                (t12x_v8_t, t12x_v8), (t12x_v9_t, t12x_v9), 625, (140, 43, 84, 108), ylab_standoff=-7)
p2 = make_panel("T12 y-force", "force [kN]", (-1.5, 1.0), T12Y_YTICKS, T12Y_YLABELS, 0.25, TIME_TICKS,
                [(t12y_test1_t, t12y_test1), (t12y_test2_t, t12y_test2), (t12y_test3_t, t12y_test3)],
                (t12y_v8_t, t12y_v8), (t12y_v9_t, t12y_v9), 625, (145, 40, 84, 108))
p3 = make_panel("T12 x-moment", "moment [Nm]", (-200, 250), T12M_YTICKS, T12M_YLABELS, 37.5, TIME_TICKS_MOMENT,
                [(t12m_test1_t, t12m_test1), (t12m_test2_t, t12m_test2), (t12m_test3_t, t12m_test3)],
                (t12m_v8_t, t12m_v8), (t12m_v9_t, t12m_v9), 607, (168, 2, 84, 108))
p4 = make_panel("lower lumbar y-force", "force [kN]", (-1.0, 3.0), LLY_YTICKS, LLY_YLABELS, 0.5, TIME_TICKS,
                [(lly_test1_t, lly_test1), (lly_test2_t, lly_test2), (lly_test3_t, lly_test3)],
                (lly_v8_t, lly_v8), (lly_v9_t, lly_v9), 625, (140, 43, 86, 0),
                title_standoff=30, ylab_standoff=-7, xlab_standoff=-11)
p5 = make_panel("lower lumbar z-force", "force [kN]", (-2.0, 2.0), LLZ_YTICKS, LLZ_YLABELS, 0.5, TIME_TICKS,
                [(llz_test1_t, llz_test1), (llz_test2_t, llz_test2), (llz_test3_t, llz_test3)],
                (llz_v8_t, llz_v8), (llz_v9_t, llz_v9), 625, (145, 40, 86, 0),
                title_standoff=30, xlab_standoff=-11)
p6 = make_panel("lower lumbar x-moment", "force [kN]", (-75, 125), LLM_YTICKS, LLM_YLABELS, 25, TIME_TICKS,
                [(llm_test1_t, llm_test1), (llm_test2_t, llm_test2), (llm_test3_t, llm_test3)],
                (llm_v8_t, llm_v8), (llm_v9_t, llm_v9), 620, (153, 2, 86, 0),
                title_standoff=30, xlab_standoff=-11)

# legend box drawn inside the last panel
p6.add_layout(BoxAnnotation(left=36.5, right=95.2, top=117.6, bottom=55.1,
                            fill_color="white", fill_alpha=1.0,
                            line_color="black", line_width=4, line_alpha=1.0))
for i, (txt, col) in enumerate(zip(LEGEND_TEXTS, LEGEND_COLORS)):
    p6.add_layout(Label(x=43.1, y=97.6 - i * 16.2, text=txt, text_color=col,
                        text_font="Liberation Sans", text_font_style="bold",
                        text_font_size="40px", text_baseline="alphabetic"))

layout = column(row(p1, p2, p3), row(p4, p5, p6, margin=(-8, 0, 0, 0)), margin=(-15, 0, 0, -8))
open("out.html", "w").write(file_html(layout, INLINE))
